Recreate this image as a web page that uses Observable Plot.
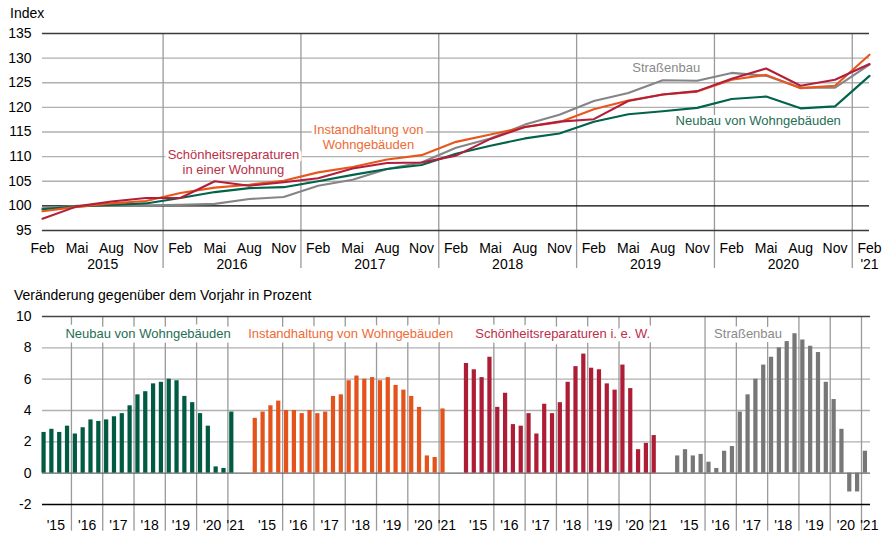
<!DOCTYPE html>
<html><head><meta charset="utf-8">
<script src="https://cdn.jsdelivr.net/npm/d3@7"></script>
<script src="https://cdn.jsdelivr.net/npm/@observablehq/plot@0.6"></script>
<style>
body{margin:0;background:#fff;font-family:"Liberation Sans",Arial,sans-serif;}
#wrap{position:relative;width:885px;height:536px;overflow:hidden;background:#fff;}
.t{position:absolute;font-size:14px;color:#000;white-space:nowrap;}
#topChart{position:absolute;left:0;top:0}
#botChart{position:absolute;left:0;top:300px}
svg{overflow:visible}
</style></head><body>
<div id="wrap">
<div id="topChart"></div><div id="botChart"></div>
<div class="t" style="left:10px;top:5px">Index</div>
<div class="t" style="left:14px;top:287px">Veränderung gegenüber dem Vorjahr in Prozent</div>
</div>
<script>
(function(){
// ---- data ----
const months = ["Feb", "Mai", "Aug", "Nov"];
const years = ["2015", "2016", "2017", "2018", "2019", "2020", "'21"];
const shortYears = ["'15", "'16", "'17", "'18", "'19", "'20", "'21"];
const seriesNames = ["Neubau von Wohngebäuden", "Instandhaltung von Wohngebäuden", "Schönheitsreparaturen in einer Wohnung", "Straßenbau"];
const colors = ["#00634a", "#e8561c", "#b21f3b", "#858585"];
const barColors = ["#005b42", "#e4531b", "#ad1e36", "#777777"];
const textColors = ["#1f6e55", "#ef6a35", "#bb2f48", "#8a8a8a"];

// Index 2015 = 100, quarterly Feb 2015 .. Feb 2021
const idxNeubau = [99.3, 99.9, 100.2, 100.5, 101.6, 102.8, 103.6, 103.8, 105.0, 106.3, 107.5, 108.3, 110.6, 112.2, 113.7, 114.7, 117.1, 118.6, 119.2, 119.9, 121.7, 122.2, 119.8, 120.2, 126.4];
const idxInstand = [98.9, 99.8, 100.5, 101.0, 102.6, 103.7, 104.3, 105.1, 106.8, 107.9, 109.4, 110.3, 113.0, 114.5, 116.0, 117.0, 119.6, 121.4, 122.6, 123.2, 125.6, 126.6, 123.9, 124.4, 130.7];
const idxSchoen = [97.4, 99.9, 100.9, 101.6, 101.6, 105.0, 104.1, 104.8, 105.6, 107.6, 108.7, 108.8, 110.2, 113.6, 116.0, 117.1, 117.6, 121.3, 122.6, 123.3, 125.8, 127.9, 124.4, 125.6, 128.8];
const idxStrasse = [99.5, 100.0, 100.0, 100.1, 100.2, 100.4, 101.4, 101.8, 104.1, 105.3, 107.5, 108.8, 111.8, 113.7, 116.5, 118.5, 121.3, 122.9, 125.5, 125.4, 127.0, 126.4, 124.0, 124.0, 128.7];

// Year-on-year change in %
const yoyNeubau = [2.6, 2.8, 2.6, 3.0, 2.5, 2.9, 3.4, 3.3, 3.4, 3.6, 3.8, 4.3, 5.0, 5.2, 5.7, 5.8, 6.0, 5.9, 4.9, 4.5, 3.8, 3.0, 0.4, 0.3, 3.9];
const yoyInstand = [3.5, 3.9, 4.3, 4.6, 4.0, 4.0, 3.8, 4.0, 3.8, 3.9, 4.9, 5.0, 5.9, 6.2, 6.0, 6.1, 5.9, 6.1, 5.6, 5.3, 4.9, 4.2, 1.1, 1.0, 4.1];
const yoySchoen = [7.0, 6.6, 6.1, 7.4, 4.2, 5.1, 3.1, 3.0, 3.8, 2.5, 4.4, 3.8, 4.5, 5.8, 6.8, 7.6, 6.7, 6.6, 5.7, 5.3, 6.9, 5.4, 1.5, 1.9, 2.4];
const yoyStrasse = [1.1, 1.5, 1.1, 1.2, 0.7, 0.3, 1.4, 1.7, 3.9, 5.0, 6.0, 6.9, 7.4, 8.0, 8.4, 8.9, 8.5, 8.1, 7.7, 5.8, 4.7, 2.8, -1.2, -1.2, 1.4];

const topTicks = [95, 100, 105, 110, 115, 120, 125, 130, 135];
const botTicks = [-2, 0, 2, 4, 6, 8, 10];
const topLabels = ["Neubau von Wohngebäuden", "Instandhaltung von\nWohngebäuden", "Schönheitsreparaturen\nin einer Wohnung", "Straßenbau"];
const botLabels = ["Neubau von Wohngebäuden", "Instandhaltung von Wohngebäuden", "Schönheitsreparaturen i. e. W.", "Straßenbau"];

// ---- build tables ----
const idxSets = [idxNeubau, idxInstand, idxSchoen, idxStrasse];
const yoySets = [yoyNeubau, yoyInstand, yoySchoen, yoyStrasse];
const lineRows = [];
idxSets.forEach((vals, s) => vals.forEach((v, i) => lineRows.push({s, i, v})));
const drawOrder = [3, 0, 1, 2];
const barRows = [];
yoySets.forEach((vals, p) => vals.forEach((v, j) => barRows.push({p, slot: p * 27 + j, v})));
const font = "Liberation Sans, Arial, sans-serif";

// ---- top chart ----
const sepTop = d3.range(6).map(k => 3.5 + 4 * k);
const topPlot = Plot.plot({
  width: 885, height: 280,
  marginLeft: 42, marginRight: 16, marginTop: 33, marginBottom: 50,
  style: {fontFamily: font, fontSize: "14px", background: "transparent", color: "#000"},
  x: {domain: [0, 24], axis: null},
  y: {domain: [95, 135], axis: null},
  marks: [
    Plot.ruleY(topTicks.filter(t => t > 100 && t < 135), {stroke: "#b0b0b0", strokeWidth: 1.3}),
    Plot.ruleX(sepTop, {y1: 135, y2: 87.3, stroke: "#9a9a9a", strokeWidth: 1.3}),
    Plot.ruleY([135, 95], {stroke: "#3a3a3a", strokeWidth: 1.3}),
    Plot.ruleY([100], {stroke: "#000", strokeWidth: 1.3}),
    Plot.axisY({ticks: topTicks, tickSize: 0, tickPadding: 11, fontSize: 14, label: null, tickFormat: d => String(d)}),
    Plot.axisX({ticks: d3.range(25), tickSize: 0, tickPadding: 13, fontSize: 14, label: null, tickFormat: i => months[i % 4]}),
    Plot.text(years, {x: (d, k) => k === 0 ? 1.75 : (k === 6 ? 24 : 5.5 + 4 * (k - 1)), y: 95, dy: 34, text: d => d, fontSize: 14, fill: "#000"}),
    Plot.text(topLabels, {
      x: [20.77, 9.46, 5.54, 18.1], y: [117.3, 114.0, 108.9, 128.1],
      text: d => d, fontSize: 13, lineHeight: 1.12,
      fill: (d, k) => textColors[k], stroke: "white", strokeWidth: 6
    }),
    ...drawOrder.map(s => Plot.line(lineRows.filter(r => r.s === s), {x: "i", y: "v", stroke: colors[s], strokeWidth: 2.1})),
  ]
});
document.getElementById("topChart").appendChild(topPlot);

// ---- bottom chart ----
const sepBot = [];
for (let p = 0; p < 4; p++) for (let k = 1; k <= 6; k++) sepBot.push(p * 27 + 4 * k - 0.5);
const yearLab = [];
for (let p = 0; p < 4; p++) shortYears.forEach((y, k) => yearLab.push({x: p * 27 + (k < 6 ? 1.5 + 4 * k : 24.5), t: y}));
const botPlot = Plot.plot({
  width: 885, height: 236,
  marginLeft: 42, marginRight: 15, marginTop: 16, marginBottom: 32,
  style: {fontFamily: font, fontSize: "14px", background: "transparent", color: "#000"},
  x: {domain: [-0.2, 105.65], axis: null},
  y: {domain: [-2, 10], axis: null},
  marks: [
    Plot.ruleY([2, 4, 6, 8], {stroke: "#b0b0b0", strokeWidth: 1.3}),
    Plot.ruleX(sepBot, {y1: 10, y2: -3.7, stroke: "#9a9a9a", strokeWidth: 1.3}),
    Plot.ruleY([10], {stroke: "#444", strokeWidth: 1.3}),
    Plot.ruleY([0], {stroke: "#666", strokeWidth: 1.3}),
    Plot.ruleY([-2], {stroke: "#000", strokeWidth: 1.3}),
    Plot.axisY({ticks: botTicks, tickSize: 0, tickPadding: 11, fontSize: 14, label: null, tickFormat: d => String(d)}),
    Plot.rect(barRows, {x1: d => d.slot - 0.27, x2: d => d.slot + 0.27, y1: 0, y2: "v", fill: d => barColors[d.p]}),
    Plot.text(yearLab, {x: "x", y: -2, dy: 21, text: "t", fontSize: 14, fill: "#000"}),
    Plot.text(botLabels, {
      x: [13.3, 39.2, 66.3, 90.0], y: 10, dy: 17,
      text: d => d, fontSize: 13,
      fill: (d, k) => textColors[k], stroke: "white", strokeWidth: 9
    })
  ]
});
document.getElementById("botChart").appendChild(botPlot);
})();
</script>
</body></html>
